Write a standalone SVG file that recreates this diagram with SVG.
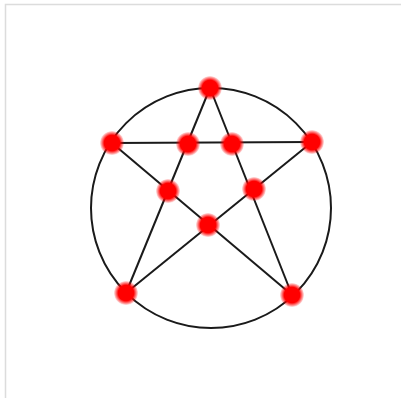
<svg xmlns="http://www.w3.org/2000/svg" width="401" height="398" viewBox="0 0 401 398">
<defs>
<radialGradient id="glow">
<stop offset="0" stop-color="#ff0000"/>
<stop offset="0.65" stop-color="#ff0000"/>
<stop offset="1" stop-color="#ff0000" stop-opacity="0.1"/>
</radialGradient>
<style>
.frame{fill:#fff;stroke:#dcdcdc;stroke-width:1.5}
.edge{stroke:#1a1a1a;stroke-width:2;fill:none}
.node{fill:url(#glow)}
</style>
</defs>
<rect class="frame" x="5.5" y="4.5" width="402" height="402"/>
<g id="connectors">
<circle class="edge" cx="211" cy="208" r="120"/>
<line class="edge" x1="210" y1="88" x2="126" y2="293"/>
<line class="edge" x1="210" y1="88" x2="292" y2="295"/>
<line class="edge" x1="112" y1="143" x2="312" y2="142"/>
<line class="edge" x1="112" y1="143" x2="292" y2="295"/>
<line class="edge" x1="312" y1="142" x2="126" y2="293"/>
</g>
<g id="n1"><circle class="node" cx="210" cy="88" r="12"/></g>
<g id="n2"><circle class="node" cx="112" cy="143" r="12"/></g>
<g id="n3"><circle class="node" cx="312" cy="142" r="12"/></g>
<g id="n4"><circle class="node" cx="126" cy="293" r="12"/></g>
<g id="n5"><circle class="node" cx="292" cy="295" r="12"/></g>
<g id="n6"><circle class="node" cx="188" cy="144" r="12"/></g>
<g id="n7"><circle class="node" cx="232" cy="144" r="12"/></g>
<g id="n8"><circle class="node" cx="168" cy="191" r="12"/></g>
<g id="n9"><circle class="node" cx="254" cy="189" r="12"/></g>
<g id="n10"><circle class="node" cx="208" cy="225" r="12"/></g>
</svg>
